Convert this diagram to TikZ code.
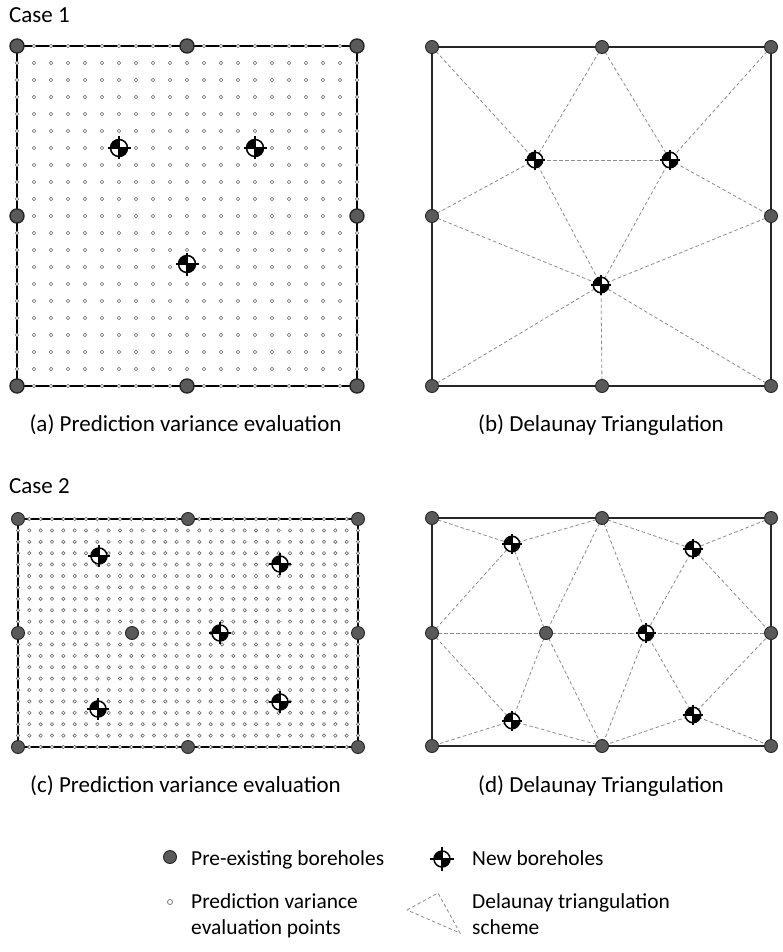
\documentclass[tikz,border=0pt]{standalone}
\usepackage{fontspec}
\setmainfont{Carlito}
\definecolor{bhfill}{HTML}{5A5A5A}
\definecolor{bhdraw}{HTML}{262626}
\definecolor{dotc}{HTML}{6A6A6A}
\definecolor{tric}{HTML}{8C8C8C}
\pgfdeclarelayer{bg}
\pgfdeclarelayer{paper}
\pgfsetlayers{paper,bg,main}
\newcommand{\NB}[5]{%
  \node[newbh, minimum size=#4pt] (#1) at (#2,#3) {};
  \draw[crossln] ([xshift=-#5pt]#1.center) -- ([xshift=#5pt]#1.center);
  \draw[crossln] ([yshift=-#5pt]#1.center) -- ([yshift=#5pt]#1.center);}
\begin{document}
\begin{tikzpicture}[x=1pt,y=-1pt,
  oldbh/.style={circle, draw=bhdraw, fill=bhfill, line width=0.9pt, minimum size=13pt, inner sep=0pt},
  oldbhA/.style={oldbh, line width=1.4pt, minimum size=14pt},
  newbh/.style={circle, draw=black, fill=white, line width=1.5pt, inner sep=0pt,
    path picture={
      \fill[black] (path picture bounding box.center) rectangle (path picture bounding box.north west);
      \fill[black] (path picture bounding box.center) rectangle (path picture bounding box.south east);}},
  crossln/.style={line width=1.2pt, black},
  tri/.style={draw=tric, dash pattern=on 3.5pt off 2.5pt, line width=0.8pt},
  frame/.style={line width=1.5pt, draw=black!85},
  dot/.style={draw=dotc, fill=white, line width=0.6pt},
  lbl/.style={font=\fontsize{21.4}{25}\selectfont, inner sep=0pt},
  captxt/.style={font=\fontsize{23}{27}\selectfont, inner sep=0pt}]
\begin{pgfonlayer}{paper}
\fill[white] (0,0) rectangle (783,952);
\end{pgfonlayer}
\useasboundingbox (0,0) rectangle (783,952);

% ---------- titles ----------
\node[captxt, anchor=base west] (case1) at (9,23) {Case 1};
\node[captxt, anchor=base west] (case2) at (9,493) {Case 2};
\node[captxt, anchor=base] (capa) at (185.5,431) {(a) Prediction variance evaluation};
\node[captxt, anchor=base] (capb) at (601,431) {(b) Delaunay Triangulation};
\node[captxt, anchor=base] (capc) at (185.5,792) {(c) Prediction variance evaluation};
\node[captxt, anchor=base] (capd) at (601,792) {(d) Delaunay Triangulation};

% ---------- panel (a) ----------
\node[oldbhA] (atl) at (17,46) {};
\node[oldbhA] (atm) at (187,46) {};
\node[oldbhA] (atr) at (357,46) {};
\node[oldbhA] (aml) at (17,216) {};
\node[oldbhA] (amr) at (357,216) {};
\node[oldbhA] (abl) at (17,386) {};
\node[oldbhA] (abm) at (187,386) {};
\node[oldbhA] (abr) at (357,386) {};
\NB{an1}{119}{148}{17}{11.5}
\NB{an2}{255}{148}{17}{11.5}
\NB{an3}{187}{264}{17}{11.5}
\begin{pgfonlayer}{bg}
  \draw[frame, draw=black] (atl.center) rectangle (abr.center);
  \foreach \i in {0,...,20}
    \foreach \j in {0,...,20}
      \draw[dot] ({17+\i*17},{46+\j*17}) circle (1.8pt);
\end{pgfonlayer}

% ---------- panel (b) ----------
\node[oldbh] (btl) at (432,47) {};
\node[oldbh] (btm) at (602,47) {};
\node[oldbh] (btr) at (771,47) {};
\node[oldbh] (bml) at (432,216) {};
\node[oldbh] (bmr) at (771,216) {};
\node[oldbh] (bbl) at (432,386) {};
\node[oldbh] (bbm) at (602,386) {};
\node[oldbh] (bbr) at (771,386) {};
\NB{bA}{535}{160}{15.5}{10}
\NB{bB}{670}{160}{15.5}{10}
\NB{bC}{601}{285}{15.5}{10}
\begin{pgfonlayer}{bg}
  \draw[frame] (btl.center) rectangle (bbr.center);
  \draw[tri] (btl.center) -- (bA.center);
  \draw[tri] (btm.center) -- (bA.center);
  \draw[tri] (btm.center) -- (bB.center);
  \draw[tri] (btr.center) -- (bB.center);
  \draw[tri] (bA.center) -- (bB.center);
  \draw[tri] (bA.center) -- (bml.center);
  \draw[tri] (bB.center) -- (bmr.center);
  \draw[tri] (bA.center) -- (bC.center);
  \draw[tri] (bB.center) -- (bC.center);
  \draw[tri] (bml.center) -- (bC.center);
  \draw[tri] (bmr.center) -- (bC.center);
  \draw[tri] (bbl.center) -- (bC.center);
  \draw[tri] (bbm.center) -- (bC.center);
  \draw[tri] (bbr.center) -- (bC.center);
\end{pgfonlayer}

% ---------- panel (c) ----------
\node[oldbh] (ctl) at (18,519) {};
\node[oldbh] (ctm) at (188,519) {};
\node[oldbh] (ctr) at (358,519) {};
\node[oldbh] (cml) at (18,633) {};
\node[oldbh] (ccl) at (132,633) {};
\node[oldbh] (cmr) at (358,633) {};
\node[oldbh] (cbl) at (18,747) {};
\node[oldbh] (cbm) at (188,747) {};
\node[oldbh] (cbr) at (358,747) {};
\NB{cn1}{99}{556}{16}{11}
\NB{cn2}{280}{564}{16}{11}
\NB{cn3}{220}{633}{16}{11}
\NB{cn4}{98}{709}{16}{11}
\NB{cn5}{280}{702}{16}{11}
\begin{pgfonlayer}{bg}
  \draw[frame, draw=black] (ctl.center) rectangle (cbr.center);
  \foreach \i in {0,...,30}
    \foreach \j in {0,...,20}
      \draw[dot] ({18+\i*340/30},{519+\j*11.4}) circle (1.7pt);
\end{pgfonlayer}

% ---------- panel (d) ----------
\node[oldbh] (dtl) at (432,518) {};
\node[oldbh] (dtm) at (602,518) {};
\node[oldbh] (dtr) at (771,518) {};
\node[oldbh] (dml) at (432,633) {};
\node[oldbh] (dcl) at (546,633) {};
\node[oldbh] (dmr) at (771,633) {};
\node[oldbh] (dbl) at (432,746) {};
\node[oldbh] (dbm) at (602,746) {};
\node[oldbh] (dbr) at (771,746) {};
\NB{dP1}{512}{544}{15.5}{10}
\NB{dP2}{693}{549}{15.5}{10}
\NB{dP3}{646}{633}{15.5}{10}
\NB{dP4}{512}{721}{15.5}{10}
\NB{dP5}{693}{715}{15.5}{10}
\begin{pgfonlayer}{bg}
  \draw[frame] (dtl.center) rectangle (dbr.center);
  \draw[tri] (dtl.center) -- (dP1.center);
  \draw[tri] (dtm.center) -- (dP1.center);
  \draw[tri] (dml.center) -- (dP1.center);
  \draw[tri] (dcl.center) -- (dP1.center);
  \draw[tri] (dtm.center) -- (dcl.center);
  \draw[tri] (dtm.center) -- (dP3.center);
  \draw[tri] (dtm.center) -- (dP2.center);
  \draw[tri] (dtr.center) -- (dP2.center);
  \draw[tri] (dP2.center) -- (dP3.center);
  \draw[tri] (dP2.center) -- (dmr.center);
  \draw[tri] (dml.center) -- (dcl.center);
  \draw[tri] (dcl.center) -- (dP3.center);
  \draw[tri] (dP3.center) -- (dmr.center);
  \draw[tri] (dml.center) -- (dP4.center);
  \draw[tri] (dcl.center) -- (dP4.center);
  \draw[tri] (dcl.center) -- (dbm.center);
  \draw[tri] (dP3.center) -- (dbm.center);
  \draw[tri] (dP3.center) -- (dP5.center);
  \draw[tri] (dP5.center) -- (dmr.center);
  \draw[tri] (dP5.center) -- (dbm.center);
  \draw[tri] (dP5.center) -- (dbr.center);
  \draw[tri] (dP4.center) -- (dbl.center);
  \draw[tri] (dP4.center) -- (dbm.center);
\end{pgfonlayer}

% ---------- legend ----------
\node[oldbh] (lg1) at (170,857) {};
\node[lbl, anchor=base west] (lt1) at (191,865) {Pre-existing boreholes};
\NB{lg2}{442}{859}{16}{12}
\node[lbl, anchor=base west] (lt2) at (472,865) {New boreholes};
\node[circle, draw=dotc, fill=white, line width=0.7pt, minimum size=5pt, inner sep=0pt] (lg3) at (170,902) {};
\node[lbl, anchor=base west] (lt3a) at (191,908) {Prediction variance};
\node[lbl, anchor=base west] (lt3b) at (191,934) {evaluation points};
\coordinate (t1) at (407,910);
\coordinate (t2) at (438,893);
\coordinate (t3) at (460,933);
\draw[tri] (t1) -- (t2) -- (t3) -- cycle;
\node[lbl, anchor=base west] (lt4a) at (472,908) {Delaunay triangulation};
\node[lbl, anchor=base west] (lt4b) at (472,934) {scheme};
\end{tikzpicture}
\end{document}
